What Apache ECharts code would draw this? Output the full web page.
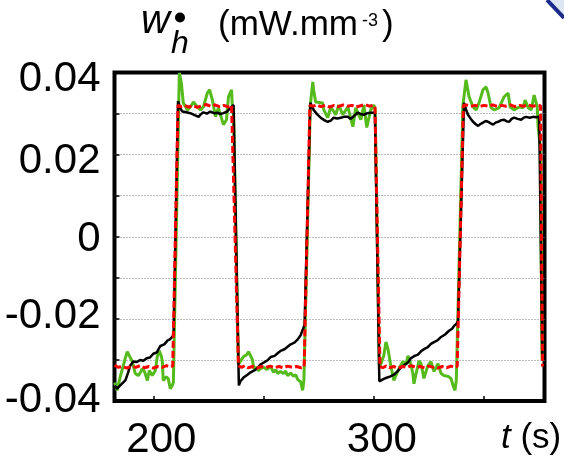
<!DOCTYPE html>
<html><head><meta charset="utf-8">
<script src="https://cdn.jsdelivr.net/npm/echarts@6/dist/echarts.min.js"></script>
<style>html,body{margin:0;padding:0;background:#fff}#c{width:564px;height:461px}</style>
</head><body><div id="c"></div>
<script>
const xTicks = [200, 250, 300, 350];
const xLabels = [200, 300];
const yLabels = [0.04, 0.02, 0, -0.02, -0.04];

const redPts = [
[182.5,-0.0313],[184,-0.0318],[186,-0.0316],[188,-0.0320],[190,-0.0315],[192,-0.0318],[194,-0.0314],[196,-0.0319],[198,-0.0316],[200,-0.0320],[202,-0.0316],[204,-0.0318],[206,-0.0314],[207.5,-0.0317],[208.8,-0.0315],
[211.2,0.0320],[212.5,0.0317],[214,0.0320],[216,0.0316],[218,0.0319],[220,0.0315],[222,0.0319],[224,0.0322],[226,0.0318],[228,0.0321],[230,0.0317],[232,0.0320],[234,0.0316],[235.5,0.0320],[236.4,0.0318],
[238.6,-0.0314],[240,-0.0318],[241.5,-0.0314],[243,-0.0319],[245,-0.0316],[247,-0.0320],[249,-0.0316],[251,-0.0318],[253,-0.0315],[255,-0.0319],[257,-0.0316],[259,-0.0319],[261,-0.0315],[263,-0.0318],[265,-0.0316],[267,-0.0319],[268.4,-0.0317],
[271,0.0320],[272.5,0.0318],[274,0.0321],[276,0.0317],[278,0.0320],[280,0.0316],[282,0.0320],[284,0.0317],[286,0.0321],[288,0.0318],[290,0.0320],[292,0.0316],[294,0.0319],[296,0.0322],[298,0.0318],[299.5,0.0320],[300.5,0.0318],
[302.8,-0.0316],[304,-0.0319],[305.5,-0.0315],[307,-0.0319],[309,-0.0316],[311,-0.0320],[313,-0.0316],[315,-0.0318],[317,-0.0314],[319,-0.0318],[321,-0.0316],[323,-0.0319],[325,-0.0315],[327,-0.0318],[329,-0.0320],[331,-0.0316],[333,-0.0319],[335,-0.0315],[336.5,-0.0318],[337.8,-0.0316],
[340.6,0.0319],[342,0.0321],[344,0.0318],[346,0.0320],[348,0.0317],[350,0.0320],[352,0.0318],[354,0.0321],[356,0.0317],[358,0.0320],[360,0.0318],[362,0.0321],[364,0.0317],[366,0.0320],[368,0.0318],[370,0.0321],[372,0.0318],[374,0.0320],[375.6,0.0319],
[376.5,-0.0316]];

const blackPts = [
[182.5,-0.0362],[183.6,-0.0370],[185,-0.0362],[187.3,-0.0350],[188.5,-0.0332],[189.5,-0.0314],[190.9,-0.0304],[192.5,-0.0305],[194,-0.0300],[195.5,-0.0302],[197,-0.0296],[198.5,-0.0294],[200,-0.0285],[201.5,-0.0282],[203.2,-0.0266],[205,-0.0262],[206.4,-0.0253],[207.5,-0.0250],[208.6,-0.0244],[209.2,-0.0238],
[211.2,0.0330],[212.3,0.0312],[213.2,0.0305],[215,0.0303],[216.8,0.0301],[218.5,0.0297],[220.5,0.0292],[221.5,0.0298],[222.7,0.0303],[224.3,0.0300],[225.9,0.0305],[227.5,0.0301],[229.1,0.0302],[230.5,0.0299],[231.8,0.0301],[233.5,0.0305],[235,0.0314],[236.4,0.0321],
[238.8,-0.0362],[239.5,-0.0352],[240.9,-0.0343],[242.7,-0.0336],[244.1,-0.0330],[246,-0.0325],[247.5,-0.0318],[248.6,-0.0311],[250.5,-0.0305],[252,-0.0300],[253.2,-0.0293],[255,-0.0290],[256.5,-0.0283],[257.7,-0.0278],[259.5,-0.0274],[260.9,-0.0268],[262.3,-0.0262],[264,-0.0258],[265.5,-0.0250],[266.8,-0.0240],[267.8,-0.0226],[268.6,-0.0214],
[271.2,0.0326],[272.7,0.0309],[274.3,0.0298],[275.9,0.0290],[277.5,0.0284],[279.1,0.0280],[280.5,0.0283],[281.8,0.0290],[283.5,0.0288],[285,0.0290],[286.5,0.0292],[288.2,0.0292],[289.5,0.0287],[291,0.0294],[292.7,0.0302],[294,0.0299],[295.5,0.0297],[297,0.0301],[298.6,0.0302],[300.5,0.0302],
[302.5,-0.0352],[303.2,-0.0350],[304.5,-0.0346],[305.5,-0.0344],[307.5,-0.0340],[309.1,-0.0336],[310.7,-0.0328],[312.3,-0.0318],[314,-0.0312],[315.5,-0.0306],[316.8,-0.0296],[318.5,-0.0290],[320,-0.0287],[321.4,-0.0279],[323,-0.0273],[324.5,-0.0269],[325.9,-0.0261],[327.5,-0.0256],[329,-0.0252],[330.5,-0.0244],[332.3,-0.0238],[334.1,-0.0229],[335.5,-0.0224],[336.4,-0.0217],[337.5,-0.0212],[338.2,-0.0205],
[340.9,0.0326],[341.8,0.0310],[342.7,0.0297],[344,0.0287],[345,0.0280],[346.2,0.0274],[347.3,0.0270],[348.5,0.0275],[349.5,0.0278],[350.7,0.0282],[351.8,0.0280],[353,0.0276],[354.1,0.0273],[355.2,0.0278],[356.4,0.0280],[357.8,0.0284],[359.1,0.0285],[360.3,0.0281],[361.4,0.0280],[362.5,0.0287],[363.6,0.0290],[365.2,0.0287],[366.8,0.0285],[368,0.0290],[369.1,0.0292],[370.7,0.0290],[372.3,0.0292],[373.7,0.0291],[375,0.0292],[375.6,0.0291],
[376.4,-0.0300]];

const greenPts = [
[182.5,-0.0355],[183.6,-0.0374],[185,-0.0341],[186.4,-0.0314],[187.3,-0.0295],[188.2,-0.0280],[189.1,-0.0278],[190.5,-0.0304],[191.8,-0.0333],[193.2,-0.0338],[194.2,-0.0330],[195,-0.0321],[196,-0.0328],[197.3,-0.0350],[198.2,-0.0326],[199.5,-0.0338],[200.9,-0.0326],[201.8,-0.0292],[202.7,-0.0278],[203.6,-0.0290],[204.1,-0.0304],[204.5,-0.0350],[205.9,-0.0341],[206.8,-0.0346],[207.7,-0.0370],[208.6,-0.0362],[209.1,-0.0355],
[211.8,0.0399],[212.7,0.0375],[213.6,0.0326],[215.5,0.0309],[216.8,0.0316],[218.2,0.0328],[220,0.0316],[221.4,0.0309],[222.7,0.0316],[224.5,0.0350],[225.5,0.0358],[226.8,0.0333],[228.2,0.0292],[229.5,0.0314],[231.8,0.0273],[233.2,0.0285],[234.1,0.0341],[235.5,0.0358],[235.9,0.0309],[236.4,0.0300],
[238.6,-0.0310],[239.5,-0.0306],[240.9,-0.0292],[242.2,-0.0288],[243.2,-0.0280],[244.1,-0.0283],[245,-0.0300],[245.5,-0.0321],[246.5,-0.0318],[247.7,-0.0326],[248.6,-0.0321],[250,-0.0318],[251.5,-0.0323],[253.2,-0.0316],[254.5,-0.0330],[255.5,-0.0324],[256.4,-0.0333],[257.7,-0.0328],[259.1,-0.0333],[260,-0.0327],[260.9,-0.0338],[262.3,-0.0332],[263.6,-0.0340],[264.6,-0.0336],[265.5,-0.0348],[266.8,-0.0353],[267.7,-0.0374],[268.3,-0.0350],
[271.2,0.0320],[272.3,0.0377],[272.7,0.0358],[273.6,0.0328],[276.8,0.0326],[277.3,0.0309],[279.1,0.0290],[280.5,0.0316],[282.7,0.0297],[284.1,0.0321],[285.9,0.0297],[288.2,0.0316],[290.5,0.0268],[291.8,0.0314],[294.1,0.0285],[295.5,0.0321],[296.8,0.0266],[298.6,0.0309],[300,0.0321],[300.6,0.0312],
[302.5,-0.0318],[303.2,-0.0310],[304.5,-0.0290],[305.5,-0.0256],[306.4,-0.0273],[307.7,-0.0314],[309.1,-0.0350],[310,-0.0338],[311.4,-0.0321],[313.2,-0.0304],[314.5,-0.0312],[315.5,-0.0290],[316.5,-0.0305],[317.7,-0.0333],[318.2,-0.0358],[319.1,-0.0335],[320.5,-0.0302],[321.4,-0.0309],[322.3,-0.0333],[322.7,-0.0345],[324.5,-0.0314],[325.9,-0.0304],[327.3,-0.0328],[329.1,-0.0309],[330.5,-0.0333],[331.8,-0.0338],[333.6,-0.0340],[335,-0.0345],[335.9,-0.0362],[336.8,-0.0374],[337.4,-0.0350],
[340.4,0.0320],[341.8,0.0382],[343.2,0.0341],[345,0.0316],[346.4,0.0309],[347.7,0.0326],[349.5,0.0358],[350.9,0.0365],[351.8,0.0350],[353.2,0.0314],[354.5,0.0309],[356.8,0.0314],[359.1,0.0341],[360.9,0.0350],[361.8,0.0316],[363.6,0.0309],[365.9,0.0316],[367.7,0.0314],[368.6,0.0333],[370,0.0314],[371.4,0.0309],[372.7,0.0345],[374.1,0.0316],[374.5,0.0268],[375.5,0.0219],[376.3,-0.0300]];

const FONT = '"Liberation Sans", Arial, Helvetica, sans-serif';
const yShift = {'0.04':[14,0,0,0], '0.02':[14,0,0,0], '0':[6,0,0,0], '-0.02':[0,0,4,0], '-0.04':[0,0,2,0]};
const yRich = {};
Object.keys(yShift).forEach((k,i)=>{ yRich['y'+i] = {fontSize:42, fontFamily:FONT, color:'#000', padding:yShift[k]}; });

const chart = echarts.init(document.getElementById('c'), null, {renderer:'canvas'});
chart.setOption({
  animation:false,
  backgroundColor:'#fff',
  grid:{left:114.5, right:19.5, top:72.5, bottom:58.5, show:true, borderColor:'#000', borderWidth:4, backgroundColor:'transparent'},
  xAxis:{
    type:'value', min:182.4, max:377.4,
    axisLine:{show:false, onZero:false},
    splitLine:{show:false},
    axisTick:{show:true, inside:true, length:5, customValues:xTicks, lineStyle:{color:'#000', width:1.5}},
    axisLabel:{show:true, customValues:xLabels, fontSize:42, fontFamily:FONT, color:'#000', margin:18,
      formatter:v=>'{a|'+v+'}', rich:{a:{fontSize:42, fontFamily:FONT, color:'#000', padding:[0,0,0,16]}}}
  },
  yAxis:{
    type:'value', min:-0.04, max:0.04, interval:0.01,
    axisLine:{show:false, onZero:false},
    axisTick:{show:true, inside:true, length:5, lineStyle:{color:'#000', width:1.5}},
    splitLine:{show:true, showMinLine:false, showMaxLine:false, lineStyle:{color:'#7a7a7a', width:1, type:[1,2]}},
    axisLabel:{show:true, customValues:yLabels, fontSize:42, fontFamily:FONT, color:'#000', margin:14,
      formatter:v=>{const s=(Math.round(v*100)/100); const t = s===0?'0':s.toFixed(2); const i = Object.keys(yShift).indexOf(t); return '{y'+i+'|'+t+'}';},
      rich:yRich}
  },
  series:[
    {type:'line', data:greenPts, symbol:'none', lineStyle:{color:'#55bb1c', width:3}, z:2},
    {type:'line', data:blackPts, symbol:'none', lineStyle:{color:'#000', width:2.5}, z:3},
    {type:'line', data:redPts, symbol:'none', lineStyle:{color:'#ff0000', width:3, type:[7,3]}, z:4}
  ],
  graphic:[
    {type:'polygon', shape:{points:[[548,0],[564,0],[564,17]]}, style:{fill:'#dde7f4'}, silent:true},
    {type:'line', shape:{x1:547,y1:0,x2:564,y2:18}, style:{stroke:'#1c2a8c', lineWidth:4}, silent:true},
    {type:'text', x:141, y:22, style:{text:'w', font:'italic 40px '+FONT, fill:'#000', verticalAlign:'middle'}},
    {type:'circle', shape:{cx:180, cy:17.5, r:5}, style:{fill:'#000'}},
    {type:'text', x:171, y:44, style:{text:'h', font:'italic 32px '+FONT, fill:'#000', verticalAlign:'middle'}},
    {type:'text', x:218, y:25, style:{text:'(mW.mm', font:'35px '+FONT, fill:'#000', verticalAlign:'middle'}},
    {type:'text', x:362, y:21, style:{text:'-3', font:'18px '+FONT, fill:'#000', verticalAlign:'middle'}},
    {type:'text', x:382, y:25, style:{text:')', font:'35px '+FONT, fill:'#000', verticalAlign:'middle'}},
    {type:'text', x:501, y:438, style:{text:'{i|t} {n|(s)}', font:'35px '+FONT, fill:'#000', verticalAlign:'middle',
      rich:{i:{font:'italic 35px '+FONT, fill:'#000'}, n:{font:'35px '+FONT, fill:'#000'}}}}
  ]
});
</script>
</body></html>
